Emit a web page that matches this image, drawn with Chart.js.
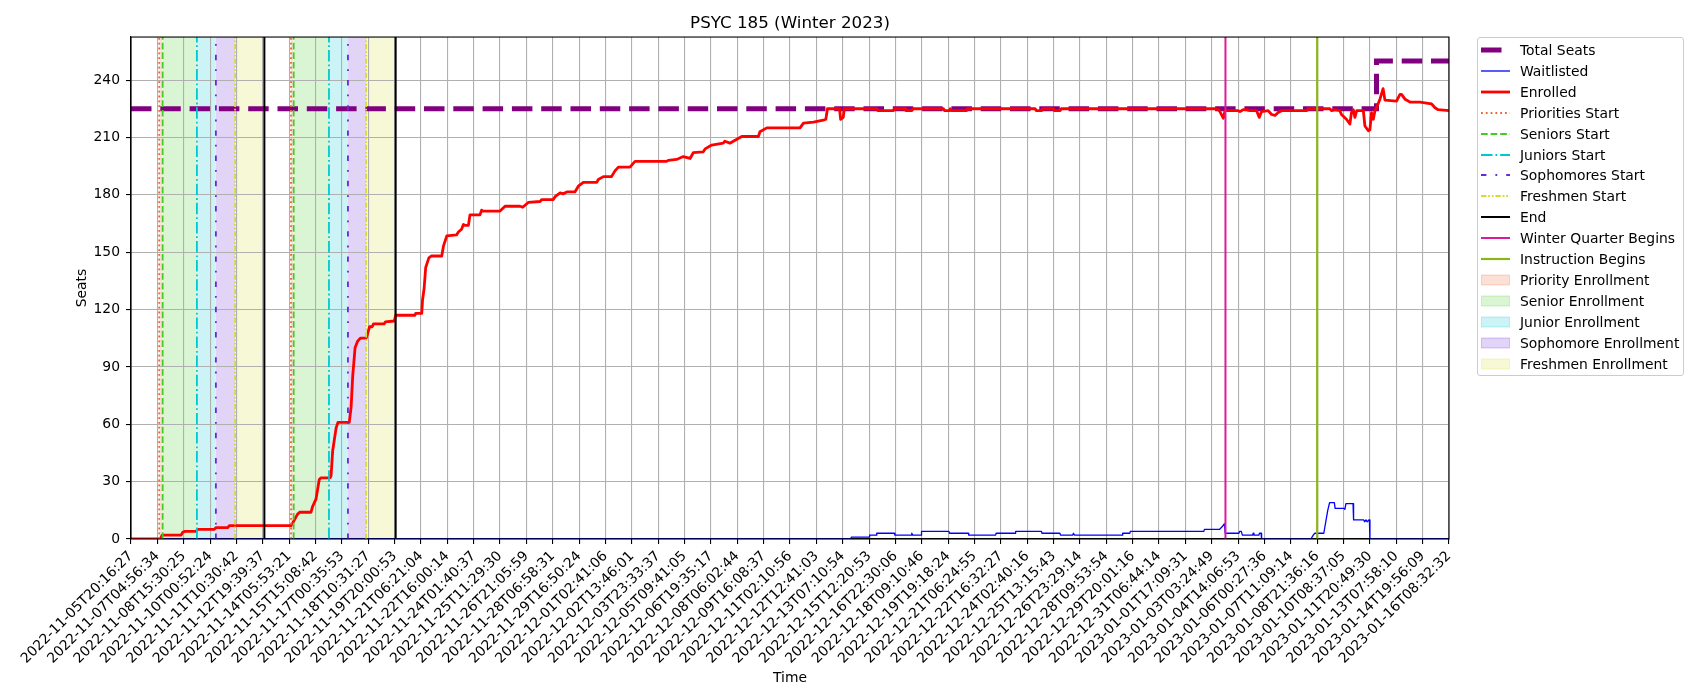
<!DOCTYPE html>
<html>
<head>
<meta charset="utf-8">
<title>PSYC 185 (Winter 2023)</title>
<script src="https://cdn.jsdelivr.net/npm/chart.js"></script>
<style>
    body { margin: 0; background: #fff; }
    #wrap { position: relative; width: 1700px; height: 700px; }
    #legend {
        position: absolute; left: 1477px; top: 37px; width: 207px; height: 339px;
        box-sizing: border-box; border: 1px solid #cccccc; border-radius: 3px;
        background: rgba(255, 255, 255, 0.8); padding: 1.3px 0 0 3px;
        font-family: "DejaVu Sans"; font-size: 13.9px; color: #000;
    }
    .row { height: 20.96px; display: flex; align-items: center; white-space: nowrap; }
    .row svg { width: 29px; height: 14px; margin-right: 10px; flex: none; }
</style>
</head>
<body>
<div id="wrap">
    <canvas id="enrollmentChart" width="1700" height="700"></canvas>
    <div id="legend"></div>
</div>
<script>
// x positions are in tick units: tick i sits at x = i
const tickLabels = [
    '2022-11-05T20:16:27', '2022-11-07T04:56:34', '2022-11-08T15:30:25', '2022-11-10T00:52:24',
    '2022-11-11T10:30:42', '2022-11-12T19:39:37', '2022-11-14T05:53:21', '2022-11-15T15:08:42',
    '2022-11-17T00:35:53', '2022-11-18T10:31:27', '2022-11-19T20:00:53', '2022-11-21T06:21:04',
    '2022-11-22T16:00:14', '2022-11-24T01:40:37', '2022-11-25T11:29:30', '2022-11-26T21:05:59',
    '2022-11-28T06:58:31', '2022-11-29T16:50:24', '2022-12-01T02:41:06', '2022-12-02T13:46:01',
    '2022-12-03T23:33:37', '2022-12-05T09:41:05', '2022-12-06T19:35:17', '2022-12-08T06:02:44',
    '2022-12-09T16:08:37', '2022-12-11T02:10:56', '2022-12-12T12:41:03', '2022-12-13T07:10:54',
    '2022-12-15T12:20:53', '2022-12-16T22:30:06', '2022-12-18T09:10:46', '2022-12-19T19:18:24',
    '2022-12-21T06:24:55', '2022-12-22T16:32:27', '2022-12-24T02:40:16', '2022-12-25T13:15:43',
    '2022-12-26T23:29:14', '2022-12-28T09:53:54', '2022-12-29T20:01:16', '2022-12-31T06:44:14',
    '2023-01-01T17:09:31', '2023-01-03T03:24:49', '2023-01-04T14:06:53', '2023-01-06T00:27:36',
    '2023-01-07T11:09:14', '2023-01-08T21:36:16', '2023-01-10T08:37:05', '2023-01-11T20:49:30',
    '2023-01-13T07:58:10', '2023-01-14T19:56:09', '2023-01-16T08:32:32'
];
const yTicks = [0, 30, 60, 90, 120, 150, 180, 210, 240];
const yMax = 262.5;

// Total Seats
const totalSeatsX = [0, 47.25, 47.25, 50];
const totalSeatsY = [225, 225, 250, 250];

// Enrolled
const enrolledX = [
    0, 1.11, 1.18, 1.90, 1.96, 2.05, 2.47, 2.53, 3.16, 3.22,
    3.67, 3.73, 6.07, 6.12, 6.20, 6.32, 6.40, 6.83, 6.89, 7.02,
    7.14, 7.20, 7.55, 7.59, 7.65, 7.78, 7.85, 8.28, 8.35, 8.41,
    8.50, 8.60, 8.70, 8.92, 8.98, 9.05, 9.15, 9.20, 9.60, 9.65,
    9.99, 10.04, 10.77, 10.80, 11.03, 11.06, 11.12, 11.18, 11.30, 11.40,
    11.79, 11.85, 11.98, 12.35, 12.42, 12.54, 12.61, 12.67, 12.80, 12.86,
    13.24, 13.30, 13.35, 14.00, 14.19, 14.76, 14.86, 15.07, 15.52, 15.58,
    16.02, 16.09, 16.28, 16.40, 16.53, 16.84, 16.97, 17.16, 17.67, 17.73,
    17.92, 18.23, 18.36, 18.49, 18.93, 19.12, 20.32, 20.38, 20.70, 20.95,
    21.21, 21.33, 21.71, 21.78, 22.03, 22.47, 22.53, 22.72, 22.85, 23.17,
    23.80, 23.86, 24.12, 25.38, 25.51, 25.89, 26.26, 26.36, 26.42, 26.88,
    26.92, 27.02, 27.06, 28.29, 28.33, 28.92, 28.96, 29.37, 29.40, 29.62,
    29.66, 30.82, 30.86, 31.05, 31.08, 31.12, 31.70, 31.74, 34.30, 34.34,
    34.55, 34.59, 34.99, 35.03, 35.25, 35.29, 41.13, 41.25, 41.31, 41.44,
    41.50, 42.00, 42.07, 42.19, 42.32, 42.45, 42.70, 42.80, 42.89, 43.14,
    43.27, 43.40, 43.52, 43.65, 44.60, 44.66, 45.48, 45.55, 45.67, 45.86,
    45.92, 46.11, 46.24, 46.30, 46.37, 46.43, 46.50, 46.75, 46.81, 46.94,
    47.00, 47.06, 47.13, 47.19, 47.25, 47.38, 47.50, 47.57, 48.01, 48.14,
    48.20, 48.33, 48.52, 48.90, 49.15, 49.34, 49.47, 49.59, 50.00
];
const enrolledY = [
    0, 0, 2, 2, 3.5, 4, 4, 5, 5, 6,
    6, 7, 7, 8, 10, 13, 14, 14, 17, 21,
    31, 32, 32, 33, 46, 58, 61, 61, 69, 85,
    100, 103.5, 105, 105, 107.5, 111, 111, 112.5, 112.5, 113.5,
    114, 117, 117, 118, 118, 125, 131, 142, 147, 148,
    148, 153, 158.5, 159, 160.5, 162, 164.5, 164, 164, 169.5,
    169.5, 172, 171.5, 171.5, 174, 174, 173.5, 176, 176.5, 177.5,
    177.5, 179, 181, 180.5, 181.5, 181.5, 184.5, 186.5, 186.5, 188,
    189.5, 189.5, 192.5, 194.5, 194.5, 197.5, 197.5, 198, 198.5, 200,
    199, 202, 202.5, 204, 206, 207, 208, 207, 208, 210.5,
    210.5, 213, 215, 215, 217.5, 218, 219, 219.5, 225, 225,
    219.5, 220.5, 225, 225, 224, 224, 225, 225, 224, 224,
    225, 225, 224, 224, 225, 224, 224, 225, 225, 224,
    224, 225, 225, 224, 224, 225, 225, 224.5, 223.5, 220,
    224, 224, 223.5, 224.5, 224.5, 224, 224, 220.5, 223.5, 224,
    222, 221.5, 223, 224, 224, 225, 225, 224, 224.5, 224,
    222, 219.5, 217, 223, 224.5, 220.5, 224, 224, 216, 213.5,
    214, 223, 219.5, 224, 225.5, 230, 235.5, 229.5, 229, 232.5,
    232.5, 230, 228.5, 228.5, 228, 227.5, 225.5, 224.5, 224
];

// Waitlisted
const waitlistX = [
    0, 27.30, 27.33, 28.00, 28.02, 28.27, 28.29, 28.96, 28.98, 29.60,
    29.62, 29.66, 29.97, 29.99, 31.03, 31.05, 31.76, 31.78, 32.80, 32.82,
    33.54, 33.56, 34.54, 34.56, 35.24, 35.26, 35.73, 35.75, 35.80, 37.60,
    37.62, 37.89, 37.91, 40.70, 40.72, 41.29, 41.40, 41.48, 41.51, 42.03,
    42.06, 42.12, 42.16, 42.55, 42.57, 42.60, 42.79, 42.81, 42.87, 42.89,
    44.76, 44.85, 44.91, 45.25, 45.40, 45.47, 45.65, 45.68, 46.02, 46.05,
    46.09, 46.36, 46.38, 46.76, 46.80, 46.85, 46.90, 46.96, 46.98, 47.00,
    50.00
];
const waitlistY = [
    0, 0, 1, 1, 2, 2, 3, 3, 2, 2,
    3, 2, 2, 4, 4, 3, 3, 2, 2, 3,
    3, 4, 4, 3, 3, 2, 2, 3, 2, 2,
    3, 3, 4, 4, 5, 5, 6.5, 8, 3, 3,
    4, 4, 2, 2, 3, 2, 2, 3, 3, 0,
    0, 2, 3, 3, 15, 19, 19, 16, 16, 15.5,
    18.5, 18.5, 10, 10, 9, 10, 9, 10, 10, 0,
    0
];

// Enrollment pass start times (two passes)
const prioritiesStart = [1.07, 6.07];
const seniorsStart = [1.20, 6.17];
const juniorsStart = [2.50, 7.51];
const sophomoresStart = [3.22, 8.23];
const freshmenStart = [3.95, 8.92];
const passEnd = [5.06, 10.04];
const winterBegins = [41.52];
const instructionBegins = [45.0];

// styles
const markerStyles = [
    { label: 'Priorities Start', xs: prioritiesStart, color: '#ee6633', width: 1.8, dash: [1.8, 3.0] },
    { label: 'Seniors Start', xs: seniorsStart, color: '#44cc22', width: 1.8, dash: [6.7, 2.9] },
    { label: 'Juniors Start', xs: juniorsStart, color: '#00c8d2', width: 1.8, dash: [11.5, 2.9, 1.8, 2.9] },
    { label: 'Sophomores Start', xs: sophomoresStart, color: '#6a28d8', width: 1.8, dash: [5.4, 9, 1.8, 9] },
    { label: 'Freshmen Start', xs: freshmenStart, color: '#d8dc30', width: 1.8, dash: [5.4, 1.8, 1.8, 1.8, 1.8, 1.8] },
    { label: 'End', xs: passEnd, color: '#000000', width: 2, dash: [] },
    { label: 'Winter Quarter Begins', xs: winterBegins, color: '#dd1a9c', width: 2, dash: [] },
    { label: 'Instruction Begins', xs: instructionBegins, color: '#8db51a', width: 2.2, dash: [] }
];
const spanStyles = [
    { label: 'Priority Enrollment', from: prioritiesStart, to: seniorsStart, rgb: '238, 102, 51' },
    { label: 'Senior Enrollment', from: seniorsStart, to: juniorsStart, rgb: '68, 204, 34' },
    { label: 'Junior Enrollment', from: juniorsStart, to: sophomoresStart, rgb: '0, 200, 210' },
    { label: 'Sophomore Enrollment', from: sophomoresStart, to: freshmenStart, rgb: '106, 40, 216' },
    { label: 'Freshmen Enrollment', from: freshmenStart, to: passEnd, rgb: '216, 220, 48' }
];
const seriesStyles = [
    { label: 'Total Seats', color: '#800080', width: 5, dash: [20.5, 8.8] },
    { label: 'Waitlisted', color: '#0000ff', width: 1.3, dash: [] },
    { label: 'Enrolled', color: '#ff0000', width: 2.8, dash: [] }
];

const toPoints = (xs, ys) => xs.map((x, i) => ({ x: x, y: ys[i] }));

document.addEventListener("DOMContentLoaded", () => {
    Chart.defaults.font.family = 'DejaVu Sans';
    Chart.defaults.font.size = 13.9;
    Chart.defaults.color = '#000';

    const datasets = [];

    // shaded enrollment windows (filled under the grid)
    spanStyles.forEach(s => {
        s.from.forEach((a, i) => {
            datasets.push({
                label: s.label,
                data: [{ x: a, y: yMax }, { x: s.to[i], y: yMax }],
                fill: 'origin',
                backgroundColor: 'rgba(' + s.rgb + ', 0.2)',
                borderColor: 'rgba(0, 0, 0, 0)',
                borderWidth: 0,
                order: 100
            });
        });
    });

    // main series
    const seriesData = [
        toPoints(totalSeatsX, totalSeatsY),
        toPoints(waitlistX, waitlistY),
        toPoints(enrolledX, enrolledY)
    ];
    seriesStyles.forEach((s, i) => {
        datasets.push({
            label: s.label,
            data: seriesData[i],
            borderColor: s.color,
            borderWidth: s.width,
            borderDash: s.dash,
            borderJoinStyle: s.dash.length ? 'miter' : 'round',
            fill: false,
            order: 30 - i * 5
        });
    });

    // vertical marker lines
    markerStyles.forEach(m => {
        m.xs.forEach(x => {
            datasets.push({
                label: m.label,
                data: [{ x: x, y: 0 }, { x: x, y: yMax }],
                borderColor: m.color,
                borderWidth: m.width,
                borderDash: m.dash,
                fill: false,
                order: 5
            });
        });
    });

    // top/right spines like matplotlib
    const spines = {
        id: 'spines',
        afterDatasetsDraw(chart) {
            const { ctx, chartArea: a } = chart;
            ctx.save();
            ctx.strokeStyle = '#000';
            ctx.lineWidth = 1.1;
            ctx.setLineDash([]);
            ctx.strokeRect(a.left, a.top, a.right - a.left, a.bottom - a.top);
            ctx.restore();
        }
    };

    const ctx = document.getElementById('enrollmentChart').getContext('2d');
    new Chart(ctx, {
        type: 'line',
        data: { datasets: datasets },
        options: {
            responsive: false,
            animation: false,
            devicePixelRatio: 1,
            layout: { padding: { left: 0, right: 251, top: 0, bottom: 0 } },
            elements: { point: { radius: 0 }, line: { tension: 0 } },
            plugins: {
                legend: { display: false },
                tooltip: { enabled: false },
                filler: { drawTime: 'beforeDraw' },
                title: {
                    display: true,
                    text: 'PSYC 185 (Winter 2023)',
                    fullSize: false,
                    color: '#000',
                    font: { size: 16.7, weight: 'normal' },
                    padding: { top: 14, bottom: 3 }
                }
            },
            scales: {
                x: {
                    type: 'linear',
                    min: 0,
                    max: tickLabels.length - 1,
                    afterBuildTicks: s => { s.ticks = tickLabels.map((_, i) => ({ value: i })); },
                    afterFit: s => { s.height = 161; s.paddingLeft = 0; s.paddingRight = 0; },
                    ticks: {
                        autoSkip: false,
                        minRotation: 45,
                        maxRotation: 45,
                        padding: 4,
                        callback: v => tickLabels[Math.round(v)]
                    },
                    grid: { color: '#b0b0b0', lineWidth: 1.1, tickColor: '#000', tickLength: 5, tickWidth: 1.1 },
                    border: { color: '#000', width: 1.1 },
                    title: { display: true, text: 'Time', padding: { top: 0, bottom: 13 } }
                },
                y: {
                    min: 0,
                    max: yMax,
                    afterBuildTicks: s => { s.ticks = yTicks.map(v => ({ value: v })); },
                    afterFit: s => { s.width = 131; },
                    ticks: { padding: 6 },
                    grid: { color: '#b0b0b0', lineWidth: 1.1, tickColor: '#000', tickLength: 5, tickWidth: 1.1 },
                    border: { color: '#000', width: 1.1 },
                    title: { display: true, text: 'Seats', padding: { top: 74, bottom: 0 } }
                }
            }
        },
        plugins: [spines]
    });

    // HTML legend
    const legend = document.getElementById('legend');
    const svgNS = 'http://www.w3.org/2000/svg';
    const addRow = (label, drawHandle) => {
        const row = document.createElement('div');
        row.className = 'row';
        const svg = document.createElementNS(svgNS, 'svg');
        svg.setAttribute('viewBox', '0 0 29 14');
        drawHandle(svg);
        row.appendChild(svg);
        const span = document.createElement('span');
        span.textContent = label;
        row.appendChild(span);
        legend.appendChild(row);
    };
    const lineHandle = s => svg => {
        const ln = document.createElementNS(svgNS, 'line');
        ln.setAttribute('x1', 0); ln.setAttribute('x2', 29);
        ln.setAttribute('y1', 7); ln.setAttribute('y2', 7);
        ln.setAttribute('stroke', s.color);
        ln.setAttribute('stroke-width', s.width);
        if (s.dash.length) ln.setAttribute('stroke-dasharray', s.dash.join(' '));
        svg.appendChild(ln);
    };
    seriesStyles.forEach(s => addRow(s.label, lineHandle(s)));
    markerStyles.forEach(m => addRow(m.label, lineHandle(m)));
    spanStyles.forEach(s => addRow(s.label, svg => {
        const r = document.createElementNS(svgNS, 'rect');
        r.setAttribute('x', 0.5); r.setAttribute('y', 2);
        r.setAttribute('width', 28); r.setAttribute('height', 10);
        r.setAttribute('fill', 'rgba(' + s.rgb + ', 0.2)');
        r.setAttribute('stroke', 'rgba(' + s.rgb + ', 0.25)');
        r.setAttribute('stroke-width', 1);
        svg.appendChild(r);
    }));
});
</script>
</body>
</html>
